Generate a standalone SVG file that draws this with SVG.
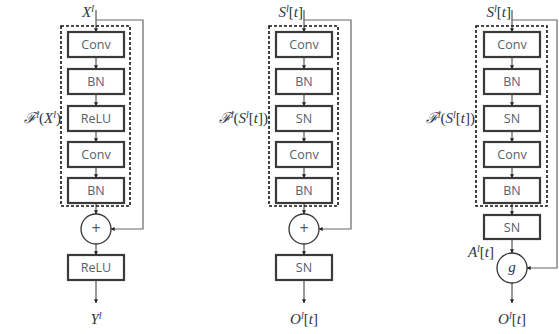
<svg xmlns="http://www.w3.org/2000/svg" width="559" height="334" viewBox="0 0 559 334">
<defs>
<marker id="ah" viewBox="0 0 6 6" refX="5.5" refY="3" markerWidth="4" markerHeight="4" orient="auto" markerUnits="userSpaceOnUse"><path d="M0,0 L6,3 L0,6 z" fill="#222"/></marker>
</defs>
<style>
.box{fill:#fff;stroke:#3a3a3a;stroke-width:2.2}
.dash{fill:none;stroke:#111;stroke-width:1.6;stroke-dasharray:3 2}
.bt{font-family:"Open Sans","Noto Sans",sans-serif;font-size:12.5px;fill:#55606e;text-anchor:middle;dominant-baseline:central}
.pl{font-family:"Open Sans","Noto Sans",sans-serif;font-size:16px;fill:#555;text-anchor:middle;dominant-baseline:central}
.ln{fill:none;stroke:#333;stroke-width:1;marker-end:url(#ah)}
.sk{fill:none;stroke:#666;stroke-width:1.2;marker-end:url(#ah)}
.circ{fill:#fff;stroke:#333;stroke-width:1.3}
.m{font-family:"Liberation Serif","DejaVu Serif",serif;font-style:italic;font-size:15px;fill:#2e3545}
.mu{font-style:normal}
.sup{font-size:10px}
</style>
<g id="connectors">
<path class="ln" d="M96,10 V32"/>
<path class="ln" d="M96,57 V69"/>
<path class="ln" d="M96,94 V106"/>
<path class="ln" d="M96,131 V142"/>
<path class="ln" d="M96,167 V178"/>
<path class="ln" d="M96,203 V214"/>
<path class="ln" d="M96,244 V255"/>
<path class="ln" d="M96,280 V303"/>
<path class="sk" d="M96,20 H143 V229 H111"/>
<path class="ln" d="M304,10 V32"/>
<path class="ln" d="M304,57 V69"/>
<path class="ln" d="M304,94 V106"/>
<path class="ln" d="M304,131 V142"/>
<path class="ln" d="M304,167 V178"/>
<path class="ln" d="M304,203 V214"/>
<path class="ln" d="M304,244 V255"/>
<path class="ln" d="M304,280 V303"/>
<path class="sk" d="M304,20 H351 V229 H319"/>
<path class="ln" d="M512,10 V32"/>
<path class="ln" d="M512,57 V69"/>
<path class="ln" d="M512,94 V106"/>
<path class="ln" d="M512,131 V142"/>
<path class="ln" d="M512,167 V178"/>
<path class="ln" d="M512,203 V215"/>
<path class="ln" d="M512,239 V253"/>
<path class="ln" d="M512,283 V303"/>
<path class="sk" d="M512,20 H557 V268 H527"/>
</g>
<g id="panel1">
<rect class="dash" x="61" y="26" width="69" height="180"/>
<g id="p1-conv1"><rect class="box" x="68" y="32" width="56" height="25"/><text class="bt" x="96" y="44.5">Conv</text></g>
<g id="p1-bn1"><rect class="box" x="68" y="69" width="56" height="25"/><text class="bt" x="96" y="81.5">BN</text></g>
<g id="p1-relu1"><rect class="box" x="68" y="106" width="56" height="25"/><text class="bt" x="96" y="118.5">ReLU</text></g>
<g id="p1-conv2"><rect class="box" x="68" y="142" width="56" height="25"/><text class="bt" x="96" y="154.5">Conv</text></g>
<g id="p1-bn2"><rect class="box" x="68" y="178" width="56" height="25"/><text class="bt" x="96" y="190.5">BN</text></g>
<g id="p1-add"><circle class="circ" cx="96" cy="229" r="15"/><text class="pl" x="96" y="228">+</text></g>
<g id="p1-relu2"><rect class="box" x="68" y="255" width="56" height="25"/><text class="bt" x="96" y="267.5">ReLU</text></g>
<text id="p1-in" class="m" x="94" y="17" text-anchor="end">X<tspan class="sup" dy="-5">l</tspan></text>
<text id="p1-f" class="m" x="61" y="123" text-anchor="end">ℱ<tspan class="sup" dy="-5">l</tspan><tspan class="mu" dy="5">(</tspan>X<tspan class="sup" dy="-5">l</tspan><tspan class="mu" dy="5">)</tspan></text>
<text id="p1-out" class="m" x="96" y="324" text-anchor="middle">Y<tspan class="sup" dy="-5">l</tspan></text>
</g>
<g id="panel2">
<rect class="dash" x="269" y="26" width="69" height="180"/>
<g id="p2-conv1"><rect class="box" x="276" y="32" width="56" height="25"/><text class="bt" x="304" y="44.5">Conv</text></g>
<g id="p2-bn1"><rect class="box" x="276" y="69" width="56" height="25"/><text class="bt" x="304" y="81.5">BN</text></g>
<g id="p2-sn1"><rect class="box" x="276" y="106" width="56" height="25"/><text class="bt" x="304" y="118.5">SN</text></g>
<g id="p2-conv2"><rect class="box" x="276" y="142" width="56" height="25"/><text class="bt" x="304" y="154.5">Conv</text></g>
<g id="p2-bn2"><rect class="box" x="276" y="178" width="56" height="25"/><text class="bt" x="304" y="190.5">BN</text></g>
<g id="p2-add"><circle class="circ" cx="304" cy="229" r="15"/><text class="pl" x="304" y="228">+</text></g>
<g id="p2-sn2"><rect class="box" x="276" y="255" width="56" height="25"/><text class="bt" x="304" y="267.5">SN</text></g>
<text id="p2-in" class="m" x="303" y="17" text-anchor="end">S<tspan class="sup" dy="-5">l</tspan><tspan class="mu" dy="5">[</tspan>t<tspan class="mu">]</tspan></text>
<text id="p2-f" class="m" x="268" y="123" text-anchor="end">ℱ<tspan class="sup" dy="-5">l</tspan><tspan class="mu" dy="5">(</tspan>S<tspan class="sup" dy="-5">l</tspan><tspan class="mu" dy="5">[</tspan>t<tspan class="mu">])</tspan></text>
<text id="p2-out" class="m" x="304" y="324" text-anchor="middle">O<tspan class="sup" dy="-5">l</tspan><tspan class="mu" dy="5">[</tspan>t<tspan class="mu">]</tspan></text>
</g>
<g id="panel3">
<rect class="dash" x="476" y="26" width="71" height="180"/>
<g id="p3-conv1"><rect class="box" x="484" y="32" width="56" height="25"/><text class="bt" x="512" y="44.5">Conv</text></g>
<g id="p3-bn1"><rect class="box" x="484" y="69" width="56" height="25"/><text class="bt" x="512" y="81.5">BN</text></g>
<g id="p3-sn1"><rect class="box" x="484" y="106" width="56" height="25"/><text class="bt" x="512" y="118.5">SN</text></g>
<g id="p3-conv2"><rect class="box" x="484" y="142" width="56" height="25"/><text class="bt" x="512" y="154.5">Conv</text></g>
<g id="p3-bn2"><rect class="box" x="484" y="178" width="56" height="25"/><text class="bt" x="512" y="190.5">BN</text></g>
<g id="p3-sn2"><rect class="box" x="484" y="215" width="56" height="24"/><text class="bt" x="512" y="227">SN</text></g>
<g id="p3-g"><circle class="circ" cx="512" cy="268" r="15"/><text class="m" x="512" y="272" text-anchor="middle">g</text></g>
<text id="p3-in" class="m" x="511" y="17" text-anchor="end">S<tspan class="sup" dy="-5">l</tspan><tspan class="mu" dy="5">[</tspan>t<tspan class="mu">]</tspan></text>
<text id="p3-f" class="m" x="475" y="123" text-anchor="end">ℱ<tspan class="sup" dy="-5">l</tspan><tspan class="mu" dy="5">(</tspan>S<tspan class="sup" dy="-5">l</tspan><tspan class="mu" dy="5">[</tspan>t<tspan class="mu">])</tspan></text>
<text id="p3-a" class="m" x="494" y="257" text-anchor="end">A<tspan class="sup" dy="-5">l</tspan><tspan class="mu" dy="5">[</tspan>t<tspan class="mu">]</tspan></text>
<text id="p3-out" class="m" x="512" y="324" text-anchor="middle">O<tspan class="sup" dy="-5">l</tspan><tspan class="mu" dy="5">[</tspan>t<tspan class="mu">]</tspan></text>
</g>
</svg>
